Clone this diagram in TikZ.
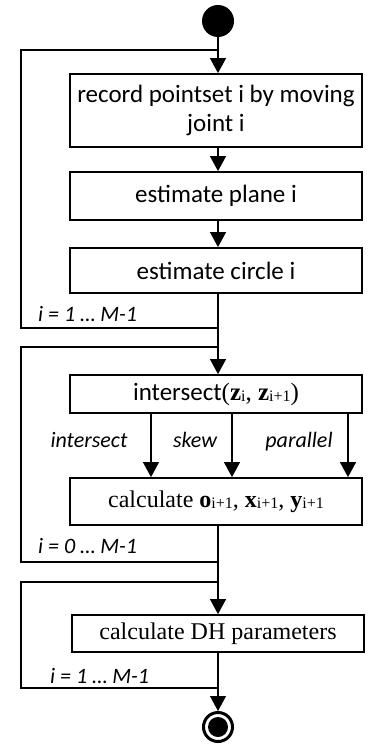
\documentclass[tikz,border=0pt]{standalone}
\usepackage{fontspec}
\setmainfont{Carlito}
\newfontfamily\tmr{Liberation Serif}
\usetikzlibrary{arrows.meta}
\newcommand{\sbs}[1]{\raisebox{-0.15ex}{\fontsize{16}{16}\selectfont\mdseries #1}}

\begin{document}
\begin{tikzpicture}[
        x=1pt, y=-1pt,
        box/.style={rectangle, draw, line width=1.8pt, minimum width=292pt,
                    inner sep=2pt, align=center, font=\fontsize{25}{29}\selectfont},
        flow/.style={-{Triangle[length=15pt, width=16pt]}, line width=1.1pt},
        loopline/.style={line width=1.1pt},
        lbl/.style={font=\fontsize{22}{24}\selectfont\itshape, inner sep=0pt}
      ]
      \useasboundingbox (0,0) rectangle (370,746);
      \node[circle, fill, minimum size=32pt, inner sep=0pt] (start) at (218,21) {};
      \node[box, minimum height=73pt] (rec)   at (216,110.5) {record pointset i by moving\\joint i};
      \node[box, minimum height=48pt] (plane) at (216,196)   {estimate plane i};
      \node[box, minimum height=45pt] (circ)  at (216,270.5) {estimate circle i};
      \node[box, minimum height=38pt] (isect) at (216,394)
        {intersect{\tmr(\textbf{z}\sbs{i}, \textbf{z}\sbs{i+1})}};
      \node[box, minimum height=47pt, font=\fontsize{24}{28}\selectfont\tmr] (calc) at (216,501.5)
        {calculate \textbf{o}\sbs{i+1}, \textbf{x}\sbs{i+1}, \textbf{y}\sbs{i+1}};
      \node[box, minimum height=37pt, font=\fontsize{24}{28}\selectfont\tmr] (dh) at (218,633.5)
        {calculate DH parameters};
      \node[circle, draw, line width=3pt, minimum size=29pt, inner sep=0pt] (stop) at (218,727) {};
      \node[circle, fill, minimum size=20pt, inner sep=0pt] (stopdot) at (stop) {};

      % loop corners on the main line
      \coordinate (l1top) at (218,50);
      \coordinate (l1bot) at (218,328);
      \coordinate (l2top) at (218,347);
      \coordinate (l2bot) at (218,562);
      \coordinate (l3top) at (218,582);
      \coordinate (l3bot) at (218,688);

      \draw[flow] (start) -- (start |- rec.north);
      \draw[flow] (rec.south -| start) -- (plane.north -| start);
      \draw[flow] (plane.south -| start) -- (circ.north -| start);
      \draw[flow] (circ.south -| start) -- (isect.north -| start);
      \foreach \bx in {151, 232, 348}
        \draw[flow] (isect.south -| \bx,0) -- (calc.north -| \bx,0);
      \draw[flow] (calc.south -| start) -- (dh.north -| start);
      \draw[flow] (dh.south -| start) -- (stop);

      \draw[loopline] (l1bot) -- ++(-197,0) |- (l1top);
      \draw[loopline] (l2top) -- ++(-197,0) |- (l2bot);
      \draw[loopline] (l3top) -- ++(-197,0) |- (l3bot);

      \node[lbl, anchor=base west] (n1) at (38,321) {i = 1 … M-1};
      \node[lbl, anchor=base west] (n2) at (38,553) {i = 0 … M-1};
      \node[lbl, anchor=base west] (n3) at (50,683) {i = 1 … M-1};
      \node[lbl, anchor=base] (b1) at (89,447)  {intersect};
      \node[lbl, anchor=base] (b2) at (195,447) {skew};
      \node[lbl, anchor=base] (b3) at (299,447) {parallel};
    \end{tikzpicture}
\end{document}
